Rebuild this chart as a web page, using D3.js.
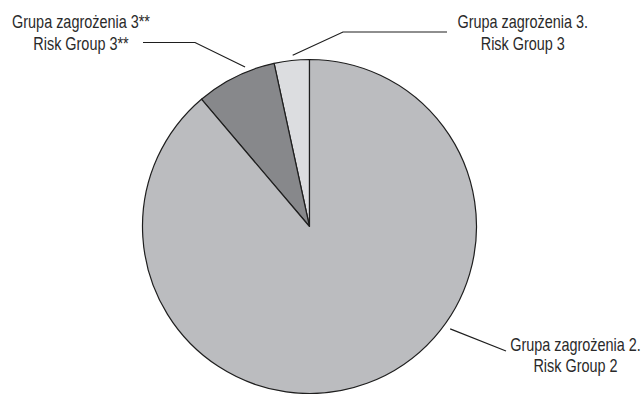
<!DOCTYPE html>
<html>
<head>
<meta charset="utf-8">
<script src="https://cdn.jsdelivr.net/npm/d3@7"></script>
<style>
  html, body { margin: 0; padding: 0; background: #fff; }
  svg { display: block; }
  text { font-family: "Liberation Sans", Arial, sans-serif; font-size: 18.5px; fill: #2a2a2a; }
</style>
</head>
<body>
<svg id="chart" width="641" height="394"></svg>
<script>
// Share of each risk group (%)
const groups = ["Grupa zagrożenia 3.", "Grupa zagrożenia 3**", "Grupa zagrożenia 2."];
const groupsEn = ["Risk Group 3", "Risk Group 3**", "Risk Group 2"];
const shares = [3.4, 7.8, 88.8];
const fills = ["#dcdde0", "#87888b", "#bbbcbf"];

const svg = d3.select("#chart");
const cx = 309.5, cy = 226.5, r = 167;

// Slices run counter-clockwise from 12 o'clock
const pie = d3.pie().sort(null).value(d => d.value)
  .startAngle(0).endAngle(-2 * Math.PI);
const data = groups.map((g, i) => ({ name: g, en: groupsEn[i], value: shares[i], fill: fills[i] }));
const arcs = pie(data);
const arc = d3.arc().innerRadius(0).outerRadius(r);

const g = svg.append("g").attr("transform", `translate(${cx},${cy})`);
g.selectAll("path.slice").data(arcs).join("path")
  .attr("class", "slice")
  .attr("d", arc)
  .attr("fill", d => d.data.fill)
  .attr("stroke", "#1e1e1e")
  .attr("stroke-width", 1.2)
  .attr("stroke-linejoin", "round");

// Leader lines: from just outside the slice, angled out, then horizontal to the label
const pt = (a, rad) => [Math.sin(a) * rad, -Math.cos(a) * rad];

const leaders = [
  { ang: -0.098, rr: 172, bend: [343 - cx, 32 - cy], end: [447 - cx, 32 - cy] },
  { ang: -0.384, rr: 172, bend: [195 - cx, 42.5 - cy], end: [143 - cx, 42.5 - cy] },
  { ang: 2.20, rr: 174, bend: [506 - cx, 351 - cy], end: [506 - cx, 351 - cy] }
];
const line = d3.line();
g.selectAll("path.leader").data(leaders).join("path")
  .attr("class", "leader")
  .attr("d", d => line([pt(d.ang, d.rr), d.bend, d.end]))
  .attr("fill", "none")
  .attr("stroke", "#1e1e1e")
  .attr("stroke-width", 1.2);

// Two-line labels (Polish / English), centred, in a condensed setting
const squeeze = 0.78;
const labels = [
  { d: arcs[0], x: 522.8, y: 28.3 },
  { d: arcs[1], x: 81, y: 28.3 },
  { d: arcs[2], x: 575.5, y: 351 }
];
labels.forEach(l => {
  const t = svg.append("text")
    .attr("text-anchor", "middle")
    .attr("transform", `translate(${l.x},${l.y}) scale(${squeeze},1)`);
  t.append("tspan").attr("x", 0).attr("y", 0).text(l.d.data.name);
  t.append("tspan").attr("x", 0).attr("y", 21.5).text(l.d.data.en);
});
</script>
</body>
</html>
